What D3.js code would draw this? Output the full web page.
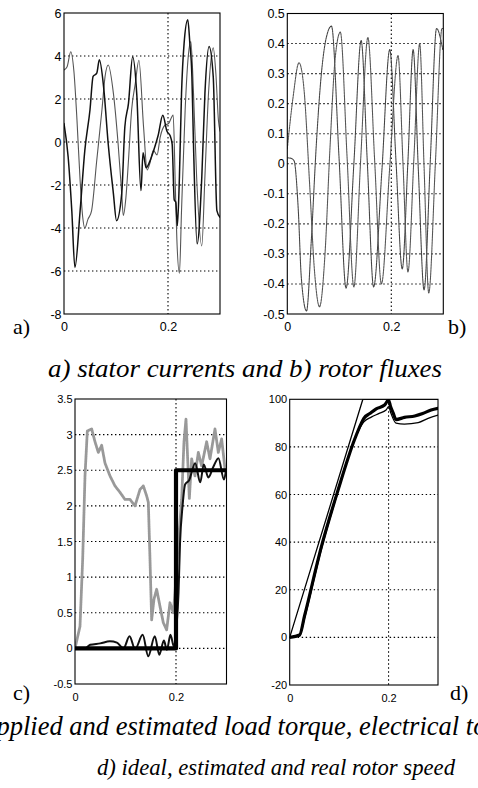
<!DOCTYPE html>
<html><head><meta charset="utf-8">
<script src="https://cdn.jsdelivr.net/npm/d3@7"></script>
<style>html,body{margin:0;padding:0;background:#fff;}svg{display:block}</style>
</head><body>
<svg id="c" width="478" height="788"></svg>
<script>
// ---------- DATA ----------
const xTickValues = [0, 0.2];
const xTickLabels = ["0", "0.2"];

// a) stator currents
const currentTicks = [-8, -6, -4, -2, 0, 2, 4, 6];
const currentLabels = ["-8", "-6", "-4", "-2", "0", "2", "4", "6"];
const statorCurrentDark = [[0,0.86],[0.008,-0.7],[0.015,-3.2],[0.021,-5.84],[0.031,-3.2],[0.040,-0.4],[0.050,1.5],[0.056,3.05],[0.063,3.2],[0.068,3.82],[0.076,2.6],[0.085,-0.08],[0.095,-2.4],[0.101,-3.66],[0.111,-2.4],[0.117,0.7],[0.124,1.8],[0.132,3.97],[0.140,2.2],[0.148,-2.26],[0.152,-0.5],[0.158,-1.2],[0.165,-0.9],[0.175,-0.2],[0.181,0.3],[0.190,1.25],[0.198,0.5],[0.204,0.3],[0.208,-0.1],[0.212,-2.7],[0.215,-2.8],[0.218,-3.9],[0.222,-1.6],[0.226,2.26],[0.231,4.6],[0.238,5.69],[0.242,4.6],[0.246,3.04],[0.249,-0.08],[0.256,-4.73],[0.265,-1.63],[0.271,2.26],[0.279,4.44],[0.287,3.04],[0.294,-3.19],[0.300,-3.5]];
const statorCurrentLight = [[0,3.35],[0.006,3.5],[0.013,4.2],[0.019,3.3],[0.025,1.0],[0.031,-1.8],[0.036,-3.5],[0.040,-4.0],[0.046,-3.6],[0.053,-3.2],[0.063,-0.85],[0.073,1.5],[0.079,3.05],[0.085,3.58],[0.095,2.26],[0.104,-0.07],[0.111,-2.4],[0.114,-3.42],[0.119,-2.6],[0.124,-0.85],[0.130,1.48],[0.137,2.7],[0.144,3.8],[0.153,0.7],[0.160,-1.3],[0.165,-1.0],[0.172,-0.39],[0.179,-0.6],[0.185,0.23],[0.194,0.78],[0.201,0.86],[0.210,1.25],[0.214,-2.0],[0.217,-4.5],[0.222,-6.1],[0.226,-3.2],[0.233,1.5],[0.239,4.0],[0.244,4.67],[0.249,2.3],[0.255,-1.6],[0.265,-4.83],[0.271,-1.6],[0.278,2.3],[0.287,4.38],[0.292,3.2],[0.297,1.0],[0.300,0.5]];

// b) rotor fluxes
const fluxTicks = [-0.5,-0.4,-0.3,-0.2,-0.1,0,0.1,0.2,0.3,0.4,0.5];
const fluxLabels = ["-0.5","-0.4","-0.3","-0.2","-0.1","0","0.1","0.2","0.3","0.4","0.5"];
const rotorFluxA = [[0,0.02],[0.007,0.018],[0.013,0.01],[0.021,-0.15],[0.027,-0.38],[0.037,-0.49],[0.046,-0.26],[0.056,0.07],[0.065,0.29],[0.075,0.42],[0.085,0.458],[0.0995,0.02],[0.113,-0.414],[0.128,0.0],[0.142,0.41],[0.154,0.0],[0.166,-0.41],[0.182,-0.02],[0.197,0.38],[0.209,0.01],[0.221,-0.35],[0.232,0.01],[0.242,0.38],[0.252,-0.02],[0.263,-0.42],[0.275,0.01],[0.287,0.45],[0.299,0.38]];
const rotorFluxB = [[0,0.05],[0.011,0.22],[0.0225,0.336],[0.032,0.25],[0.043,-0.07],[0.052,-0.35],[0.062,-0.476],[0.0725,-0.3],[0.082,0.05],[0.092,0.35],[0.102,0.438],[0.115,0.02],[0.128,-0.41],[0.141,0.01],[0.155,0.42],[0.168,0.01],[0.181,-0.40],[0.197,-0.01],[0.213,0.36],[0.2225,0.0],[0.232,-0.36],[0.2435,0.02],[0.2546,0.40],[0.263,-0.01],[0.272,-0.43],[0.285,0.01],[0.2975,0.45],[0.3,0.45]];

// c) applied and estimated load torque, electrical torque
const torqueTicks = [-0.5,0,0.5,1,1.5,2,2.5,3,3.5];
const torqueLabels = ["-0.5","0","0.5","1","1.5","2","2.5","3","3.5"];
const appliedLoadTorque = [[0,0],[0.2,0],[0.2,2.5],[0.3,2.5]];
const estimatedLoadTorque = [[0,0],[0.02,0],[0.03,0.05],[0.05,0.07],[0.069,0.1],[0.083,0.08],[0.096,0.0],[0.108,0.17],[0.119,-0.01],[0.134,0.19],[0.145,-0.11],[0.158,0.17],[0.167,-0.09],[0.176,0.11],[0.182,-0.02],[0.189,0.19],[0.196,0.02],[0.201,0.31],[0.205,0.78],[0.208,1.48],[0.213,2.0],[0.218,2.3],[0.226,2.36],[0.238,2.6],[0.248,2.33],[0.255,2.58],[0.264,2.4],[0.274,2.55],[0.284,2.67],[0.295,2.37],[0.299,2.5]];
const electricalTorque = [[0,0],[0.0099,0.31],[0.0152,1.25],[0.0198,2.42],[0.0244,3.05],[0.033,3.08],[0.0396,2.9],[0.0462,2.75],[0.0528,2.85],[0.0594,2.6],[0.0693,2.42],[0.0792,2.28],[0.0891,2.19],[0.099,2.09],[0.1089,2.09],[0.1188,2.0],[0.1287,2.23],[0.1353,2.28],[0.1419,2.14],[0.1452,2.05],[0.1485,1.25],[0.1518,0.4],[0.1564,0.69],[0.1617,0.83],[0.1683,0.59],[0.1749,0.36],[0.1815,0.26],[0.1881,0.64],[0.1947,0.5],[0.198,0.78],[0.2046,1.48],[0.2112,2.09],[0.2158,2.9],[0.2198,3.22],[0.2231,2.66],[0.2264,2.1],[0.231,2.66],[0.2376,2.42],[0.2442,2.75],[0.2508,2.56],[0.2607,2.9],[0.2673,2.66],[0.2772,3.08],[0.2838,2.75],[0.2904,2.94],[0.297,2.52]];

// d) ideal, estimated and real rotor speed
const speedTicks = [-20,0,20,40,60,80,100];
const speedLabels = ["-20","0","20","40","60","80","100"];
const idealSpeed = [[0,0],[0.148,100],[0.3,100]];
const estimatedSpeed = [[0,0],[0.020,1],[0.030,9],[0.064,38],[0.098,62],[0.131,83],[0.145,90],[0.150,92],[0.162,94],[0.175,96],[0.192,97.6],[0.200,99.7],[0.204,97],[0.209,94.4],[0.215,91.5],[0.232,92.4],[0.253,93],[0.269,94],[0.286,95.5],[0.300,96.2]];
const realSpeed = [[0,0],[0.02,0.5],[0.03,8],[0.064,37],[0.098,61.5],[0.131,83],[0.145,89],[0.150,90.5],[0.165,92.5],[0.18,94],[0.195,95.5],[0.200,96.9],[0.205,94],[0.215,90],[0.232,89.6],[0.26,90.2],[0.28,92],[0.300,93.4]];

// ---------- DRAW ----------
const svg = d3.select('#c');
let clipId = 0;
function panel(cfg) {
  const x = d3.scaleLinear().domain([0, 0.3]).range([cfg.L, cfg.R]);
  const y = d3.scaleLinear().domain([cfg.yTicks[0], cfg.yTicks[cfg.yTicks.length-1]]).range([cfg.B, cfg.T]);
  const g = svg.append('g');
  const id = 'clip' + (clipId++);
  g.append('clipPath').attr('id', id).append('rect')
    .attr('x', cfg.L).attr('y', cfg.T).attr('width', cfg.R - cfg.L).attr('height', cfg.B - cfg.T);
  const grid = g.append('g').attr('stroke', '#000').attr('stroke-width', 1.1).attr('stroke-dasharray', '1.4,2.6');
  cfg.yTicks.slice(1, -1).forEach(v => {
    grid.append('line').attr('x1', cfg.L).attr('x2', cfg.R).attr('y1', y(v)).attr('y2', y(v));
  });
  grid.append('line').attr('x1', x(0.2)).attr('x2', x(0.2)).attr('y1', cfg.T).attr('y2', cfg.B);
  const dg = g.append('g').attr('clip-path', `url(#${id})`);
  cfg.series.forEach(s => {
    const line = d3.line().x(d => x(d[0])).y(d => y(d[1])).curve(s.curve || d3.curveLinear);
    dg.append('path').datum(s.data).attr('d', line).attr('fill', 'none')
      .attr('stroke', s.color).attr('stroke-width', s.width)
      .attr('stroke-linejoin', 'round').attr('stroke-linecap', s.cap || 'round')
      .attr('stroke-dasharray', s.dash || null);
  });
  g.append('rect').attr('x', cfg.L).attr('y', cfg.T).attr('width', cfg.R - cfg.L).attr('height', cfg.B - cfg.T)
    .attr('fill', 'none').attr('stroke', '#000').attr('stroke-width', 1.1);
  const ya = g.append('g').attr('transform', `translate(${cfg.L},0)`)
    .call(d3.axisLeft(y).tickValues(cfg.yTicks).tickFormat((d, i) => cfg.yLabels[i]).tickSize(0).tickPadding(2.5));
  const xa = g.append('g').attr('transform', `translate(0,${cfg.B})`)
    .call(d3.axisBottom(x).tickValues(xTickValues).tickFormat((d, i) => xTickLabels[i]).tickSize(0).tickPadding(cfg.xPad));
  [ya, xa].forEach(a => {
    a.select('.domain').remove();
    a.selectAll('text').attr('font-family', 'Liberation Sans, Arial, sans-serif')
      .attr('font-size', cfg.fs).attr('fill', '#000');
  });
}

panel({L: 64, R: 220, T: 13, B: 314, yTicks: currentTicks, yLabels: currentLabels, fs: 12.5, xPad: 8,
  series: [
    {data: statorCurrentLight, color: '#555', width: 1.1, curve: d3.curveMonotoneX},
    {data: statorCurrentDark, color: '#111', width: 1.5, curve: d3.curveMonotoneX}
  ]});
panel({L: 287.3, R: 443.3, T: 13.5, B: 314, yTicks: fluxTicks, yLabels: fluxLabels, fs: 12.5, xPad: 8,
  series: [
    {data: rotorFluxA, color: '#444', width: 1.1, dash: '2,0.8', curve: d3.curveMonotoneX},
    {data: rotorFluxB, color: '#555', width: 1.1, dash: '2,0.8', curve: d3.curveMonotoneX}
  ]});
panel({L: 75, R: 226.5, T: 399, B: 684, yTicks: torqueTicks, yLabels: torqueLabels, fs: 11, xPad: 9,
  series: [
    {data: electricalTorque, color: '#999', width: 2.8, dash: '1,0.7'},
    {data: estimatedLoadTorque, color: '#111', width: 2, curve: d3.curveMonotoneX},
    {data: appliedLoadTorque, color: '#000', width: 4.2, cap: 'butt'}
  ]});
panel({L: 289.7, R: 438, T: 399.3, B: 685, yTicks: speedTicks, yLabels: speedLabels, fs: 11, xPad: 9,
  series: [
    {data: idealSpeed, color: '#000', width: 1.3},
    {data: realSpeed, color: '#000', width: 1.3, curve: d3.curveMonotoneX},
    {data: estimatedSpeed, color: '#000', width: 3.2, curve: d3.curveMonotoneX}
  ]});

// panel letters and captions
const serif = 'Liberation Serif, Times New Roman, serif';
[["a)", 13, 334], ["b)", 448, 334], ["c)", 13, 700], ["d)", 450, 700]].forEach(([t, px, py]) => {
  svg.append('text').attr('x', px).attr('y', py).text(t)
    .attr('font-family', serif).attr('font-size', 22).attr('fill', '#000');
});
svg.append('text').attr('x', 48).attr('y', 377).text('a) stator currents and b) rotor fluxes')
  .attr('font-family', serif).attr('font-style', 'italic').attr('font-size', 25)
  .attr('textLength', 394).attr('lengthAdjust', 'spacingAndGlyphs').attr('fill', '#000');
svg.append('text').attr('x', -44).attr('y', 735).text('c) applied and estimated load torque, electrical torque')
  .attr('font-family', serif).attr('font-style', 'italic').attr('font-size', 26.5).attr('fill', '#000');
svg.append('text').attr('x', 97).attr('y', 775).text('d) ideal, estimated and real rotor speed')
  .attr('font-family', serif).attr('font-style', 'italic').attr('font-size', 23)
  .attr('textLength', 358).attr('lengthAdjust', 'spacingAndGlyphs').attr('fill', '#000');
</script>
</body></html>
